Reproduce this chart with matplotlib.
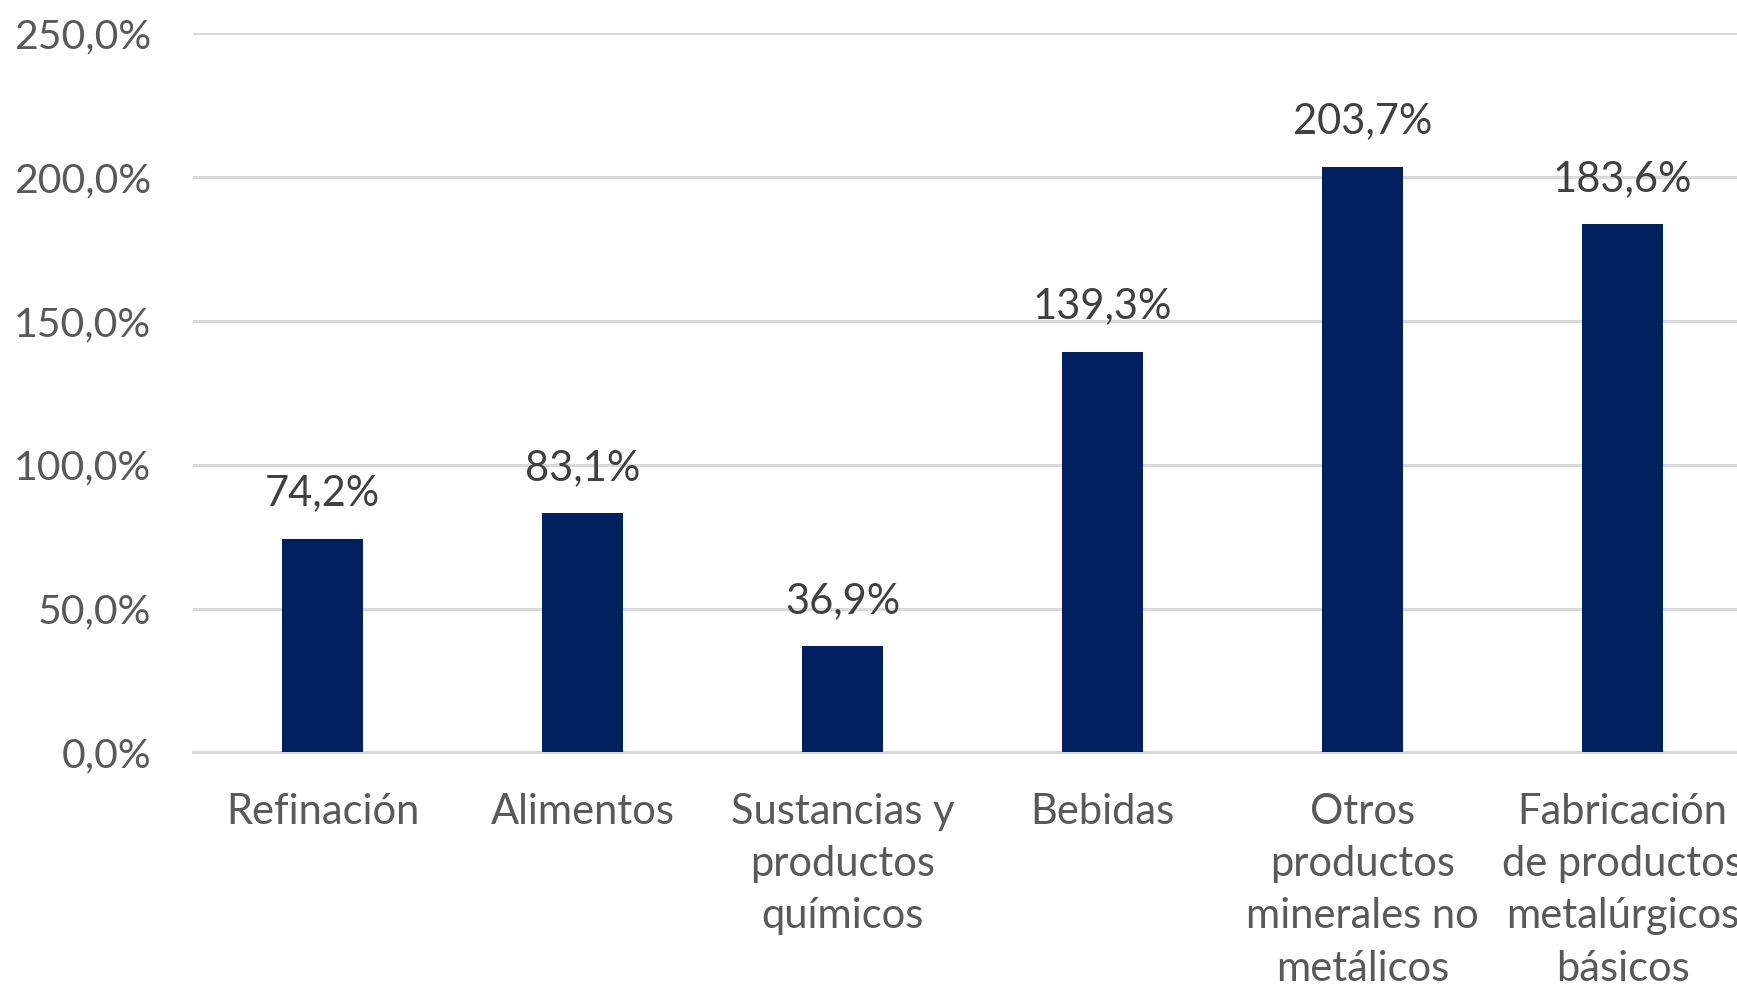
import matplotlib
matplotlib.use("Agg")
import matplotlib.pyplot as plt
from matplotlib.ticker import FuncFormatter

categories = ["Refinación", "Alimentos", "Sustancias y\nproductos\nquímicos", "Bebidas",
              "Otros\nproductos\nminerales no\nmetálicos",
              "Fabricación\nde productos\nmetalúrgicos\nbásicos"]
values = [74.2, 83.1, 36.9, 139.3, 203.7, 183.6]
yticks = [0, 50, 100, 150, 200, 250]

plt.rcParams['font.family'] = ['Lato', 'DejaVu Sans']

fig = plt.figure(figsize=(17.37, 9.84), dpi=100)
ax = fig.add_axes([0.1109, 0.2353, 0.8981, 0.7307])

x = list(range(len(values)))
ax.bar(x, values, width=0.312, color="#012060", zorder=3)
ax.set_xlim(-0.5, len(values) - 0.5)
ax.set_ylim(0, 250)
ax.set_yticks(yticks)
ax.yaxis.set_major_formatter(FuncFormatter(lambda v, p: f"{v:.1f}%".replace(".", ",")))
ax.grid(axis="y", color="#D9D9D9", linewidth=2.2, zorder=0)
ax.set_axisbelow(True)
for s in ["top", "right", "left"]:
    ax.spines[s].set_visible(False)
ax.spines["bottom"].set_color("#D9D9D9")
ax.spines["bottom"].set_linewidth(2.2)
ax.tick_params(axis="y", length=0, pad=30, labelsize=29.5, labelcolor="#595959")
ax.tick_params(axis="x", length=0, pad=29, labelsize=30, labelcolor="#595959")
ax.set_xticks(x)
ax.set_xticklabels(categories, linespacing=1.46)

for xi, v in zip(x, values):
    ax.annotate(f"{v:.1f}%".replace(".", ","), (xi, v), xytext=(0, 19),
                textcoords="offset points", ha="center", va="bottom",
                fontsize=30, color="#404040", annotation_clip=False)

fig.savefig("out.png", dpi=100)
